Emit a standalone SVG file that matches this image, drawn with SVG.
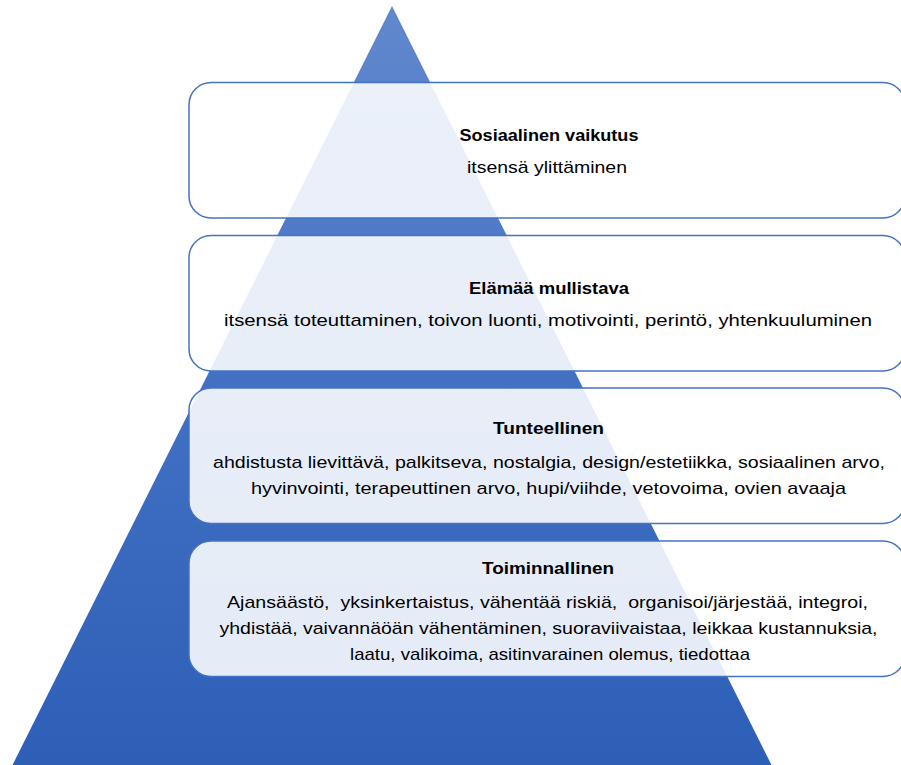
<svg xmlns="http://www.w3.org/2000/svg" width="901" height="765" viewBox="0 0 901 765">
  <defs>
    <linearGradient id="pyr" x1="0" y1="6" x2="0" y2="765" gradientUnits="userSpaceOnUse">
      <stop offset="0" stop-color="#6088cd"/>
      <stop offset="0.5" stop-color="#4271c3"/>
      <stop offset="1" stop-color="#2d5fb7"/>
    </linearGradient>
  </defs>
  <style>
    .box { fill: #ffffff; fill-opacity: 0.88; stroke: #4472c4; stroke-width: 1.5; }
    .t { font-family: "Liberation Sans", Arial, sans-serif; font-size: 17px; fill: #000000; text-anchor: middle; }
    .b { font-weight: bold; }
  </style>
  <rect x="0" y="0" width="901" height="765" fill="#ffffff"/>
  <g id="pyramid">
    <polygon points="392,6 12,766 772,766" fill="url(#pyr)"/>
  </g>
  <g id="level-social">
    <rect class="box" x="189" y="82.5" width="716" height="135.5" rx="22" ry="22"/>
    <text class="t b" x="549" y="141" textLength="179" lengthAdjust="spacingAndGlyphs">Sosiaalinen vaikutus</text>
    <text class="t" x="547" y="173" textLength="160" lengthAdjust="spacingAndGlyphs">itsensä ylittäminen</text>
  </g>
  <g id="level-life">
    <rect class="box" x="189" y="235.5" width="716" height="135.5" rx="22" ry="22"/>
    <text class="t b" x="549" y="294" textLength="160" lengthAdjust="spacingAndGlyphs">Elämää mullistava</text>
    <text class="t" x="548" y="326" textLength="648" lengthAdjust="spacingAndGlyphs">itsensä toteuttaminen, toivon luonti, motivointi, perintö, yhtenkuuluminen</text>
  </g>
  <g id="level-emotional">
    <rect class="box" x="189" y="388" width="716" height="135.5" rx="22" ry="22"/>
    <text class="t b" x="548.5" y="434" textLength="111" lengthAdjust="spacingAndGlyphs">Tunteellinen</text>
    <text class="t" x="549" y="468" textLength="672" lengthAdjust="spacingAndGlyphs">ahdistusta lievittävä, palkitseva, nostalgia, design/estetiikka, sosiaalinen arvo,</text>
    <text class="t" x="548.5" y="494" textLength="595" lengthAdjust="spacingAndGlyphs">hyvinvointi, terapeuttinen arvo, hupi/viihde, vetovoima, ovien avaaja</text>
  </g>
  <g id="level-functional">
    <rect class="box" x="189" y="541" width="716" height="135.5" rx="22" ry="22"/>
    <text class="t b" x="548" y="574" textLength="132" lengthAdjust="spacingAndGlyphs">Toiminnallinen</text>
    <text class="t" x="547.5" y="608" textLength="641" lengthAdjust="spacingAndGlyphs" xml:space="preserve">Ajansäästö,  yksinkertaistus, vähentää riskiä,  organisoi/järjestää, integroi,</text>
    <text class="t" x="548.5" y="634" textLength="658" lengthAdjust="spacingAndGlyphs">yhdistää, vaivannäöän vähentäminen, suoraviivaistaa, leikkaa kustannuksia,</text>
    <text class="t" x="550" y="660" textLength="400" lengthAdjust="spacingAndGlyphs">laatu, valikoima, asitinvarainen olemus, tiedottaa</text>
  </g>
</svg>
